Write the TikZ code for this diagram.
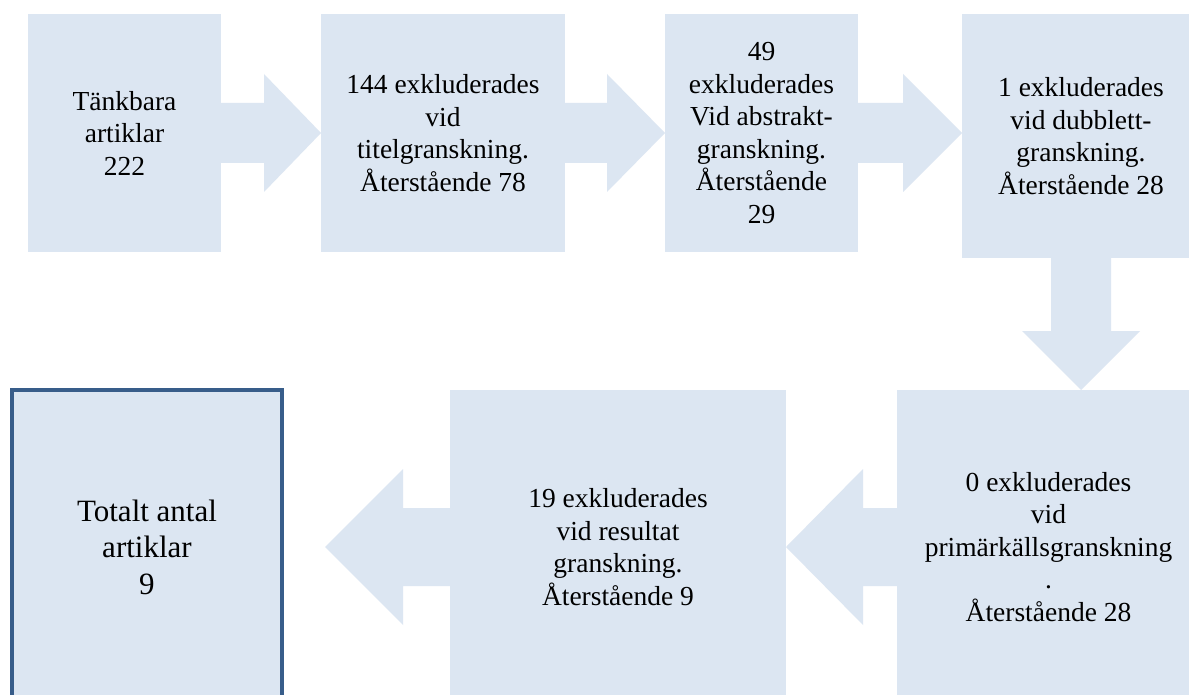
\documentclass[tikz,border=0pt]{standalone}
\usepackage{fontspec}
\setmainfont{Liberation Serif}
\usetikzlibrary{calc}
\definecolor{boxfill}{RGB}{220,230,242}
\definecolor{boxline}{RGB}{56,93,138}
\tikzset{
  stepbox/.style={fill=boxfill, draw=none, inner sep=0pt, outer sep=0pt, align=center,
    font=\fontsize{27.5}{32.5}\selectfont, text=black},
  finalbox/.style={fill=boxfill, draw=boxline, line width=4.7pt, inner sep=0pt, align=center,
    font=\fontsize{31}{36.5}\selectfont, text=black},
  blockarrow/.style={fill=boxfill, draw=none}
}
\begin{document}
\begin{tikzpicture}[x=1pt,y=-1pt]
\useasboundingbox (0,0) rectangle (1189,695);
\clip (0,0) rectangle (1189,695);
\fill[white] (0,0) rectangle (1189,695);

% boxes
\node[stepbox, minimum width=193pt, minimum height=238pt] (b1) at (124.5,133) {Tänkbara\\artiklar\\222};
\node[stepbox, minimum width=244pt, minimum height=238pt] (b2) at (443,133) {144 exkluderades\\vid\\titelgranskning.\\Återstående 78};
\node[stepbox, minimum width=193pt, minimum height=238pt] (b3) at (761.5,133) {49\\exkluderades\\Vid abstrakt-\\granskning.\\Återstående\\29};
\node[stepbox, minimum width=238pt, minimum height=244pt] (b4) at (1081,136) {1 exkluderades\\vid dubblett-\\granskning.\\Återstående 28};
\node[stepbox, minimum width=303pt, minimum height=314pt] (b5) at (1048.5,547) {0 exkluderades\\vid\\primärkällsgranskning\\.\\Återstående 28};
\node[stepbox, minimum width=336pt, minimum height=314pt] (b6) at (618,547) {19 exkluderades\\vid resultat\\granskning.\\Återstående 9};
\node[finalbox, minimum width=270pt, minimum height=314pt] (b7) at (147,547) {Totalt antal\\artiklar\\9};

% arrow b1 -> b2
\fill[blockarrow] ($(b1.east)+(-2,-30)$) -- ($(b2.west)+(-57,-30)$) -- ($(b2.west)+(-57,-59)$)
  -- (b2.west) -- ($(b2.west)+(-57,59)$) -- ($(b2.west)+(-57,30)$) -- ($(b1.east)+(-2,30)$) -- cycle;
% arrow b2 -> b3
\fill[blockarrow] ($(b2.east)+(-2,-30)$) -- ($(b3.west)+(-58,-30)$) -- ($(b3.west)+(-58,-59)$)
  -- (b3.west) -- ($(b3.west)+(-58,59)$) -- ($(b3.west)+(-58,30)$) -- ($(b2.east)+(-2,30)$) -- cycle;
% arrow b3 -> b4
\coordinate (t3) at (b4.west |- b3.east);
\fill[blockarrow] ($(b3.east)+(-2,-30)$) -- ($(t3)+(-59,-30)$) -- ($(t3)+(-59,-59)$)
  -- (t3) -- ($(t3)+(-59,59)$) -- ($(t3)+(-59,30)$) -- ($(b3.east)+(-2,30)$) -- cycle;
% arrow b4 -> b5 (down)
\coordinate (t4) at (b4.south |- b5.north);
\fill[blockarrow] ($(b4.south)+(-30,-2)$) -- ($(t4)+(-30,-59)$) -- ($(t4)+(-59,-59)$)
  -- (t4) -- ($(t4)+(59,-59)$) -- ($(t4)+(30,-59)$) -- ($(b4.south)+(30,-2)$) -- cycle;
% arrow b5 -> b6 (left)
\fill[blockarrow] ($(b5.west)+(2,-39)$) -- ($(b6.east)+(77,-39)$) -- ($(b6.east)+(77,-78)$)
  -- (b6.east) -- ($(b6.east)+(77,78)$) -- ($(b6.east)+(77,39)$) -- ($(b5.west)+(2,39)$) -- cycle;
% arrow b6 -> b7 (left)
\coordinate (t6) at ($(b6.west)+(-125,0)$);
\fill[blockarrow] ($(b6.west)+(2,-39)$) -- ($(t6)+(78,-39)$) -- ($(t6)+(78,-78)$)
  -- (t6) -- ($(t6)+(78,78)$) -- ($(t6)+(78,39)$) -- ($(b6.west)+(2,39)$) -- cycle;
\end{tikzpicture}
\end{document}
